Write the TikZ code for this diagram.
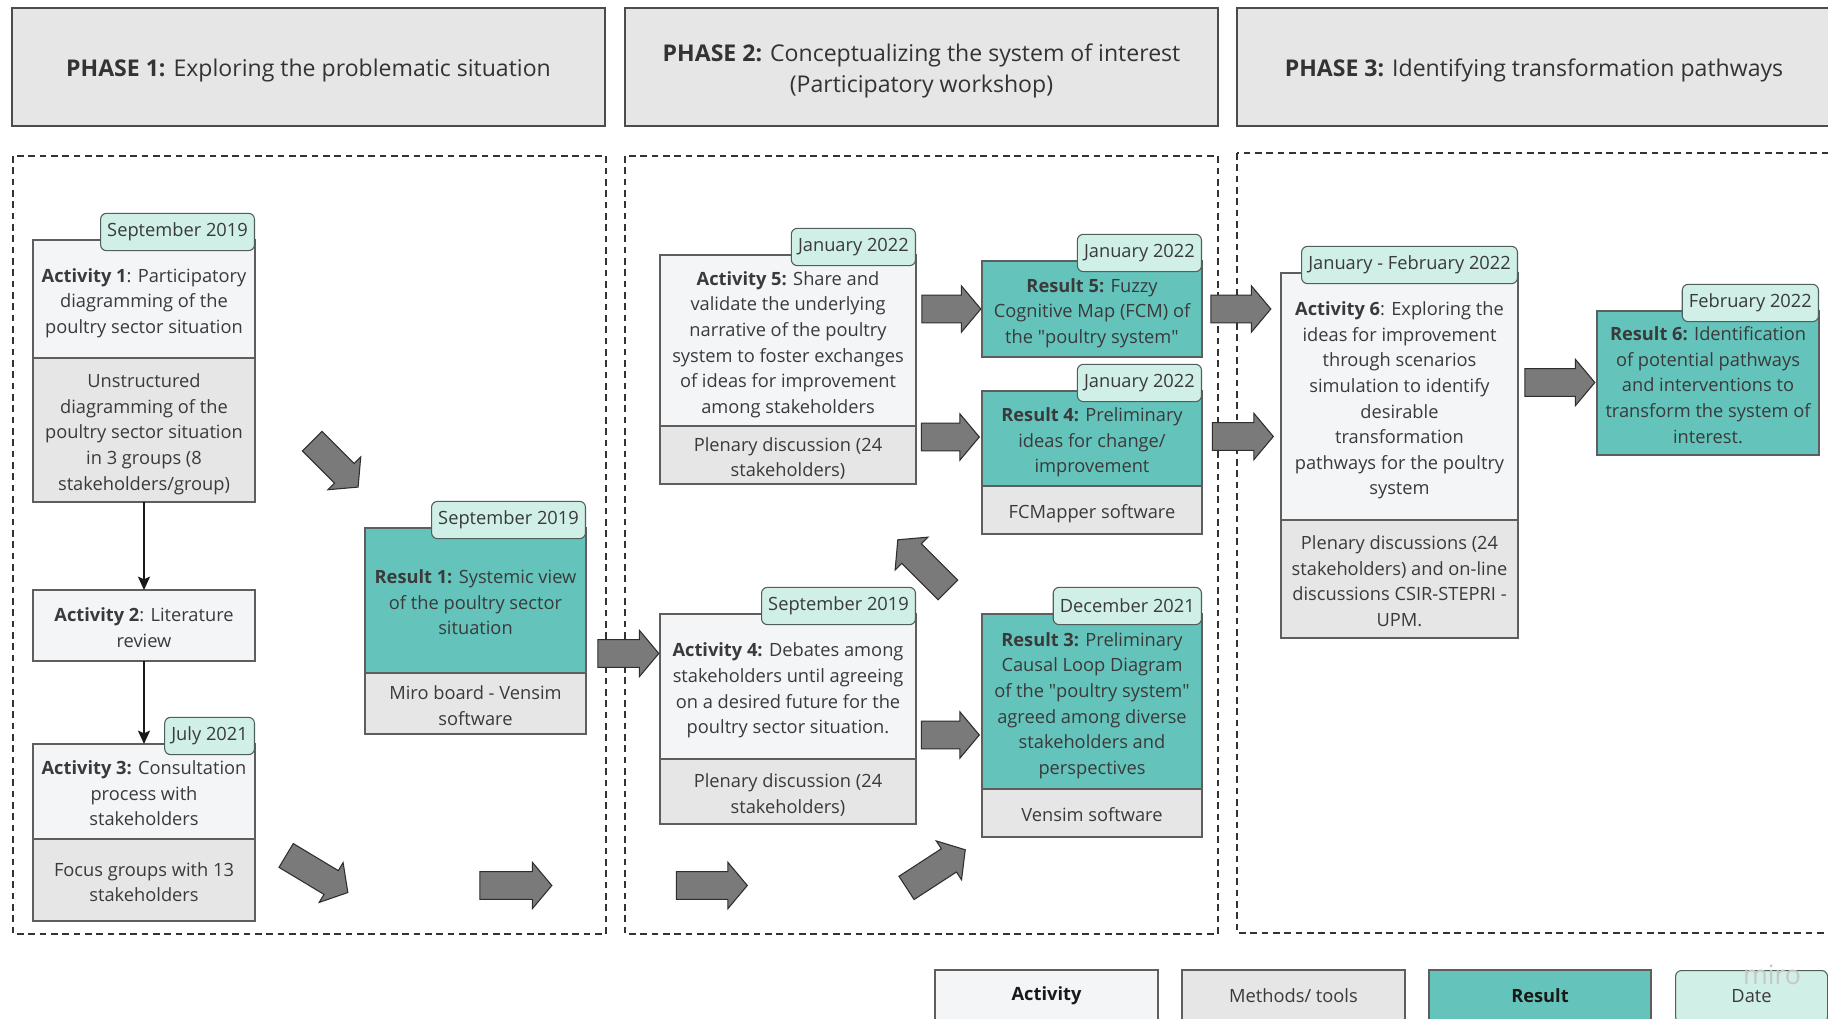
\documentclass[tikz,border=0pt]{standalone}
\usepackage{fontspec}
\setmainfont{Open Sans}
\usetikzlibrary{positioning,calc,shapes.arrows,arrows.meta}

\definecolor{actfill}{HTML}{F4F5F7}
\definecolor{methfill}{HTML}{E6E6E6}
\definecolor{resfill}{HTML}{64C4BC}
\definecolor{datefill}{HTML}{CFEFE7}
\definecolor{tagline}{HTML}{4F5F5B}
\definecolor{boxline}{HTML}{5E5E5E}
\definecolor{arrfill}{HTML}{7A7A7A}
\definecolor{arrline}{HTML}{2E2E2E}
\definecolor{txt}{HTML}{3A3A3A}

\newcommand{\boxfont}{\fontsize{13.7}{19.2}\selectfont}
\newcommand{\phasefont}{\fontsize{17.3}{23}\selectfont}
\newcommand{\qt}{\textquotedbl}

\tikzset{
  basebox/.style={draw=boxline, line width=0.9pt, text=txt, font=\boxfont, align=flush center, inner sep=0pt, outer sep=0pt},
  lift/.style={execute at begin node={\rule{0pt}{#1}}, execute at end node={\rule[-4pt]{0pt}{4pt}}},
  actbox/.style={basebox, lift=17.3pt, fill=actfill},
  methbox/.style={basebox, lift=17.3pt, fill=methfill},
  resbox/.style={basebox, lift=17.3pt, fill=resfill},
  legbox/.style={basebox, anchor=north west, minimum height=39pt},
  datetag/.style={draw=tagline, fill=datefill, rounded corners=4.5pt, line width=0.8pt, text=txt, font=\boxfont, inner xsep=5pt, inner ysep=0pt, minimum height=28pt, anchor=east},
  phasebox/.style={draw=black!70, fill=methfill, line width=1.3pt, text=black!80, font=\phasefont, align=flush center, anchor=north west, outer sep=0pt, text width=430pt},
  region/.style={draw=black!80, line width=1pt, dash pattern=on 5pt off 3.5pt},
  flow/.style={-{Stealth[length=10pt,width=9pt,inset=2pt]}, line width=1.6pt, black!90},
  blockarrow/.style={single arrow, draw=arrline, fill=arrfill, line width=0.8pt, inner xsep=0pt, inner ysep=10pt, single arrow head extend=7pt, single arrow tip angle=100, minimum width=0pt},
}

\begin{document}
\begin{tikzpicture}[x=0.75pt,y=0.75pt,yscale=-1,xscale=1]
\useasboundingbox (0,0) rectangle (1828,1019);

%Shape: Rectangle (phase headers)
\node[phasebox, lift=18.3pt, minimum width=444.75pt, minimum height=88.5pt] (ph1) at (12,8) {\textbf{PHASE 1:} Exploring the problematic situation};
\node[phasebox, lift=19pt, minimum width=444.75pt, minimum height=88.5pt] (ph2) at (625,8) {\textbf{PHASE 2:} Conceptualizing the system of interest\\(Participatory workshop)};
\node[phasebox, lift=18.3pt, minimum width=445.5pt, minimum height=88.5pt] (ph3) at (1237,8) {\textbf{PHASE 3:} Identifying transformation pathways};

%Shape: Rectangle (dashed frames)
\draw[region] (13,156) rectangle (606,934);
\draw[region] (625,156) rectangle (1218,934);
\draw[region] (1237,153) rectangle (1835,933);

%Phase 1 boxes
\node[actbox, anchor=north west, minimum width=166.5pt, minimum height=88.5pt, text width=160pt] (act1) at (33,240) {\textbf{Activity 1}: Participatory\\diagramming of the\\poultry sector situation};
\node[methbox, below=0pt of act1, minimum width=166.5pt, minimum height=108pt, text width=160pt] (act1m) {Unstructured\\diagramming of the\\poultry sector situation\\in 3 groups (8\\stakeholders/group)};
\node[actbox, anchor=north west, minimum width=166.5pt, minimum height=53.25pt, text width=160pt] (act2) at (33,590) {\textbf{Activity 2}: Literature\\review};
\node[actbox, anchor=north west, minimum width=166.5pt, minimum height=71.25pt, text width=160pt] (act3) at (33,744) {\textbf{Activity 3:} Consultation\\process with\\stakeholders};
\node[methbox, below=0pt of act3, minimum width=166.5pt, minimum height=61.5pt, text width=160pt] (act3m) {Focus groups with 13\\stakeholders};
\node[resbox, anchor=north west, minimum width=165.75pt, minimum height=108.75pt, text width=160pt] (res1) at (365,528) {\textbf{Result 1:} Systemic view\\of the poultry sector\\situation};
\node[methbox, below=0pt of res1, minimum width=165.75pt, minimum height=45.75pt, text width=160pt] (res1m) {Miro board - Vensim\\software};

%Phase 2 boxes
\node[actbox, anchor=north west, minimum width=192pt, minimum height=128.25pt, text width=186pt] (act5) at (660,255) {\textbf{Activity 5:} Share and\\validate the underlying\\narrative of the poultry\\system to foster exchanges\\of ideas for improvement\\among stakeholders};
\node[methbox, below=0pt of act5, minimum width=192pt, minimum height=43.5pt, text width=186pt] (act5m) {Plenary discussion (24\\stakeholders)};
\node[actbox, anchor=north west, minimum width=192pt, minimum height=108.75pt, text width=186pt] (act4) at (660,614) {\textbf{Activity 4:} Debates among\\stakeholders until agreeing\\on a desired future for the\\poultry sector situation.};
\node[methbox, below=0pt of act4, minimum width=192pt, minimum height=48.75pt, text width=186pt] (act4m) {Plenary discussion (24\\stakeholders)};
\node[resbox, anchor=north west, minimum width=165pt, minimum height=72pt, text width=160pt] (res5) at (982,261) {\textbf{Result 5:} Fuzzy\\Cognitive Map (FCM) of\\the \qt poultry system\qt};
\node[resbox, anchor=north west, minimum width=165pt, minimum height=71.25pt, text width=160pt] (res4) at (982,391) {\textbf{Result 4:} Preliminary\\ideas for change/\\improvement};
\node[methbox, below=0pt of res4, minimum width=165pt, minimum height=36pt, text width=160pt] (res4m) {FCMapper software};
\node[resbox, anchor=north west, minimum width=165pt, minimum height=131.25pt, text width=160pt] (res3) at (982,614) {\textbf{Result 3:} Preliminary\\Causal Loop Diagram\\of the \qt poultry system\qt\\agreed among diverse\\stakeholders and\\perspectives};
\node[methbox, below=0pt of res3, minimum width=165pt, minimum height=36pt, text width=160pt] (res3m) {Vensim software};

%Phase 3 boxes
\node[actbox, anchor=north west, minimum width=177.75pt, minimum height=185.25pt, text width=172pt] (act6) at (1281,273) {\textbf{Activity 6}: Exploring the\\ideas for improvement\\through scenarios\\simulation to identify\\desirable\\transformation\\pathways for the poultry\\system};
\node[methbox, below=0pt of act6, minimum width=177.75pt, minimum height=88.5pt, text width=172pt] (act6m) {Plenary discussions (24\\stakeholders) and on-line\\discussions CSIR-STEPRI -\\UPM.};
\node[resbox, anchor=north west, minimum width=166.5pt, minimum height=108pt, text width=160pt] (res6) at (1597,311) {\textbf{Result 6:} Identification\\of potential pathways\\and interventions to\\transform the system of\\interest.};

%Date tags
\node[datetag] (act1d) at ($(act1.north east)+(0,-8)$) {September 2019};
\node[datetag] (act3d) at ($(act3.north east)+(0,-8)$) {July 2021};
\node[datetag] (res1d) at ($(res1.north east)+(0,-8)$) {September 2019};
\node[datetag] (act5d) at ($(act5.north east)+(0,-8)$) {January 2022};
\node[datetag] (act4d) at ($(act4.north east)+(0,-8)$) {September 2019};
\node[datetag] (res5d) at ($(res5.north east)+(0,-8)$) {January 2022};
\node[datetag] (res4d) at ($(res4.north east)+(0,-8)$) {January 2022};
\node[datetag] (res3d) at ($(res3.north east)+(0,-8)$) {December 2021};
\node[datetag] (act6d) at ($(act6.north east)+(0,-8)$) {January - February 2022};
\node[datetag] (res6d) at ($(res6.north east)+(0,-8)$) {February 2022};

%Straight Lines
\draw[flow] (act1m) -- (act2);
\draw[flow] (act2) -- (act3);

%Shape: Right Arrow
\node[blockarrow, minimum height=48.75pt, rotate=-45] (ar1) at (331,460) {};
\node[blockarrow, minimum height=54pt, rotate=-31] (ar2) at (312,871) {};
\node[blockarrow, minimum height=54pt] (ar3) at (510,885.5) {};
\node[blockarrow, minimum height=45.75pt] (ar4) at (622.5,653.5) {};
\node[blockarrow, minimum height=53.25pt] (ar5) at (706,885.5) {};
\node[blockarrow, minimum height=53.25pt, rotate=135] (ar6) at (927,569) {};
\node[blockarrow, minimum height=52.5pt, rotate=33] (ar7) at (931,872) {};
\node[blockarrow, minimum height=43.5pt] (ar8) at (944.5,735) {};
\node[blockarrow, minimum height=44.25pt] (ar9) at (945.5,309) {};
\node[blockarrow, minimum height=43.5pt] (ar10) at (944.5,437) {};
\node[blockarrow, minimum height=45pt] (ar11) at (1235,309) {};
\node[blockarrow, minimum height=45.75pt] (ar12) at (1237,436.5) {};
\node[blockarrow, minimum height=52.5pt] (ar13) at (1554,382.5) {};

%Legend
\node[legbox, fill=actfill, minimum width=167.25pt, text=black!90] (legact) at (935,970) {\textbf{Activity}};
\node[legbox, fill=methfill, minimum width=167.25pt] (legmeth) at (1182,970) {Methods/ tools};
\node[legbox, fill=resfill, minimum width=166.5pt, text=black!90] (legres) at (1429,970) {\textbf{Result}};
\node[datetag, anchor=north west, minimum width=114pt, minimum height=39pt] (legdate) at (1675,970) {Date};
% Text Node
\node[text=black!22, font=\fontsize{20}{20}\selectfont] (miro) at (1772,975) {miro};
\end{tikzpicture}
\end{document}
